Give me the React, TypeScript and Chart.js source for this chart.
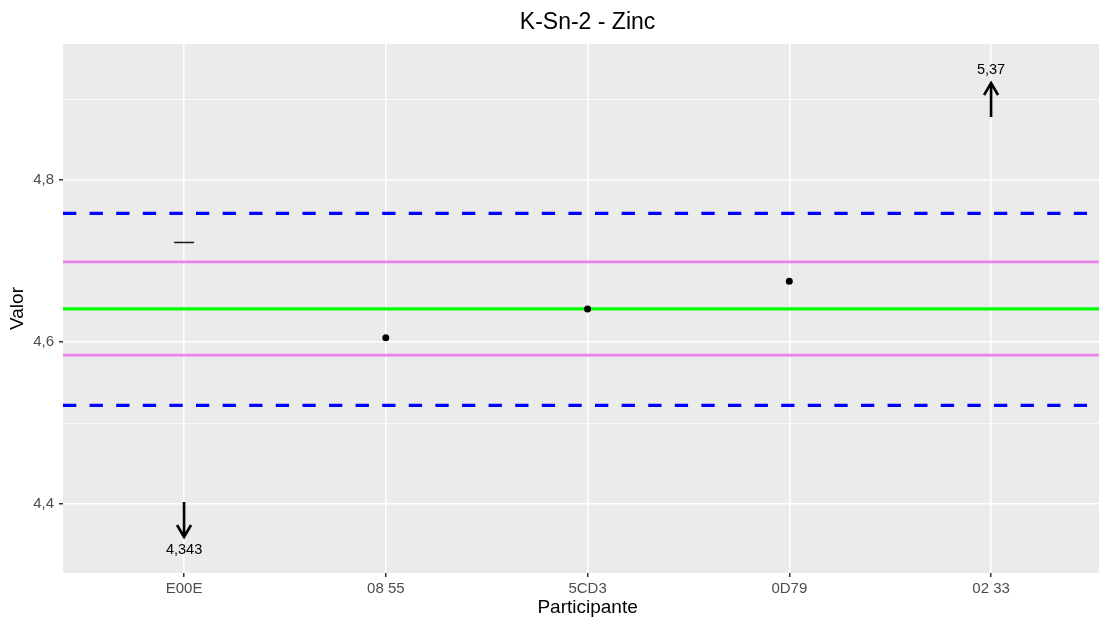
import React, { useEffect, useRef } from "react";
import { Chart, registerables } from "chart.js";

Chart.register(...registerables);

const categories = ["E00E", "08 55", "5CD3", "0D79", "02 33"];
const pointValues: (number | null)[] = [null, 4.6055, 4.641, 4.675, null];
const dashValues: (number | null)[] = [4.723, null, null, null, null];
const outOfRangeValues: (number | null)[] = [4.343, null, null, null, 5.37];
const assignedValue = 4.641;
const innerLimits = [4.584, 4.699];
const outerLimits = [4.522, 4.759];
const yMajorTicks = [4.4, 4.6, 4.8];
const yMinorTicks = [4.5, 4.7, 4.9];
const yRange = [4.315, 4.968];
const xRange = [-0.6, 4.535];
const xPanelFull = [-0.6, 4.6];
const titleText = "K-Sn-2 - Zinc";
const xTitleText = "Participante";
const yTitleText = "Valor";

const FONT = "'Liberation Sans', Arial, sans-serif";
const fmt = (v: number) => String(v).replace(".", ",");

const bgPlugin = {
  id: "panelBg",
  beforeDraw(chart: any) {
    const { ctx, chartArea } = chart;
    ctx.save();
    ctx.fillStyle = "#EBEBEB";
    ctx.fillRect(chartArea.left, chartArea.top, chartArea.right - chartArea.left, chartArea.bottom - chartArea.top);
    ctx.restore();
  },
};

const textPlugin = {
  id: "panelTitles",
  afterDraw(chart: any) {
    const { ctx, scales, height } = chart;
    const x = scales.x;
    const cx = (x.getPixelForValue(xPanelFull[0]) + x.getPixelForValue(xPanelFull[1])) / 2;
    ctx.save();
    ctx.fillStyle = "#000";
    ctx.textAlign = "center";
    ctx.textBaseline = "middle";
    ctx.font = `23px ${FONT}`;
    ctx.fillText(titleText, cx, 23);
    ctx.font = `19px ${FONT}`;
    ctx.fillText(xTitleText, cx, height - 11);
    ctx.restore();
  },
};

const arrowPlugin = {
  id: "outArrows",
  afterDatasetsDraw(chart: any) {
    const { ctx, chartArea, scales } = chart;
    const x = scales.x;
    ctx.save();
    ctx.strokeStyle = "#000";
    ctx.fillStyle = "#000";
    ctx.lineWidth = 2.6;
    ctx.font = `14.5px ${FONT}`;
    ctx.textAlign = "center";
    ctx.textBaseline = "middle";
    outOfRangeValues.forEach((v, i) => {
      if (v == null) return;
      const px = x.getPixelForValue(i);
      let base: number, tip: number, labelY: number, dir: number;
      if (v < assignedValue) {
        base = chartArea.bottom - 71;
        tip = chartArea.bottom - 36;
        labelY = chartArea.bottom - 23;
        dir = 1;
      } else {
        base = chartArea.top + 73;
        tip = chartArea.top + 39;
        labelY = chartArea.top + 26;
        dir = -1;
      }
      ctx.beginPath();
      ctx.moveTo(px, base);
      ctx.lineTo(px, tip);
      ctx.moveTo(px - 7, tip - dir * 12);
      ctx.lineTo(px, tip);
      ctx.lineTo(px + 7, tip - dir * 12);
      ctx.stroke();
      ctx.fillText(fmt(v), px, labelY);
    });
    ctx.restore();
  },
};

const hLine = (v: number, color: string, width: number, dash: number[] = []) => ({
  type: "line" as const,
  data: [
    { x: xRange[0], y: v },
    { x: xRange[1], y: v },
  ],
  borderColor: color,
  borderWidth: width,
  borderDash: dash,
  pointRadius: 0,
  fill: false,
  showLine: true,
});

export default function App() {
  const ref = useRef<HTMLCanvasElement>(null);
  useEffect(() => {
    document.body.style.margin = "0";
    Chart.defaults.font.family = FONT;
    const chart = new Chart(ref.current!, {
      type: "scatter",
      data: {
        datasets: [
          {
            data: pointValues.map((v, i) => (v == null ? null : { x: i, y: v })).filter(Boolean) as any,
            backgroundColor: "#000",
            borderColor: "#000",
            pointRadius: 3.5,
            pointBorderWidth: 0,
          },
          {
            data: dashValues.map((v, i) => (v == null ? null : { x: i, y: v })).filter(Boolean) as any,
            pointStyle: "line",
            pointRadius: 10,
            borderColor: "#1a1a1a",
            pointBorderWidth: 1.5,
          },
          hLine(assignedValue, "#00FF00", 3.4),
          hLine(innerLimits[0], "#EE82EE", 2.6),
          hLine(innerLimits[1], "#EE82EE", 2.6),
          hLine(outerLimits[0], "#0000FF", 3.3, [13.3, 13.3]),
          hLine(outerLimits[1], "#0000FF", 3.3, [13.3, 13.3]),
        ] as any,
      },
      options: {
        animation: false,
        responsive: false,
        devicePixelRatio: 1,
        layout: { padding: { top: 44, left: 0, right: 0, bottom: 0 }, autoPadding: false },
        plugins: {
          legend: { display: false },
          tooltip: { enabled: false },
          title: { display: false },
        },
        scales: {
          x: {
            type: "linear",
            min: xRange[0],
            max: xRange[1],
            afterBuildTicks: (s: any) => {
              s.ticks = categories.map((_, i) => ({ value: i }));
            },
            afterFit: (s: any) => {
              s.height = 46;
              s.paddingLeft = 0;
              s.paddingRight = 0;
            },
            ticks: {
              autoSkip: false,
              color: "#4D4D4D",
              font: { size: 15 },
              padding: 3,
              maxRotation: 0,
              callback: (v: any) => categories[Math.round(Number(v))] ?? "",
            },
            grid: { color: "#FFFFFF", lineWidth: 1.5, tickColor: "#333333", tickLength: 4 },
            border: { display: false },
            title: { display: false },
          },
          y: {
            type: "linear",
            min: yRange[0],
            max: yRange[1],
            afterBuildTicks: (s: any) => {
              s.ticks = [...yMajorTicks, ...yMinorTicks].sort((a, b) => a - b).map((v) => ({ value: v }));
            },
            afterFit: (s: any) => {
              s.width = 63;
              s.paddingTop = 0;
              s.paddingBottom = 0;
            },
            ticks: {
              color: "#4D4D4D",
              font: { size: 15 },
              padding: 5,
              callback: (v: any) => (yMajorTicks.some((m) => Math.abs(m - Number(v)) < 1e-9) ? fmt(Number(v)) : ""),
            },
            grid: {
              color: "#FFFFFF",
              lineWidth: (c: any) => (yMajorTicks.some((m) => Math.abs(m - c.tick?.value) < 1e-9) ? 1.5 : 0.75),
              tickColor: (c: any) =>
                yMajorTicks.some((m) => Math.abs(m - c.tick?.value) < 1e-9) ? "#333333" : "rgba(0,0,0,0)",
              tickLength: 4,
            },
            border: { display: false },
            title: {
              display: true,
              text: yTitleText,
              color: "#000",
              font: { size: 19 },
              padding: { top: 6.5, bottom: 0 },
            },
          },
        },
      },
      plugins: [bgPlugin, arrowPlugin, textPlugin],
    } as any);
    return () => chart.destroy();
  }, []);
  return (
    <div style={{ width: 1099, height: 619 }}>
      <canvas ref={ref} width={1099} height={619} style={{ display: "block", width: 1099, height: 619 }} />
    </div>
  );
}
